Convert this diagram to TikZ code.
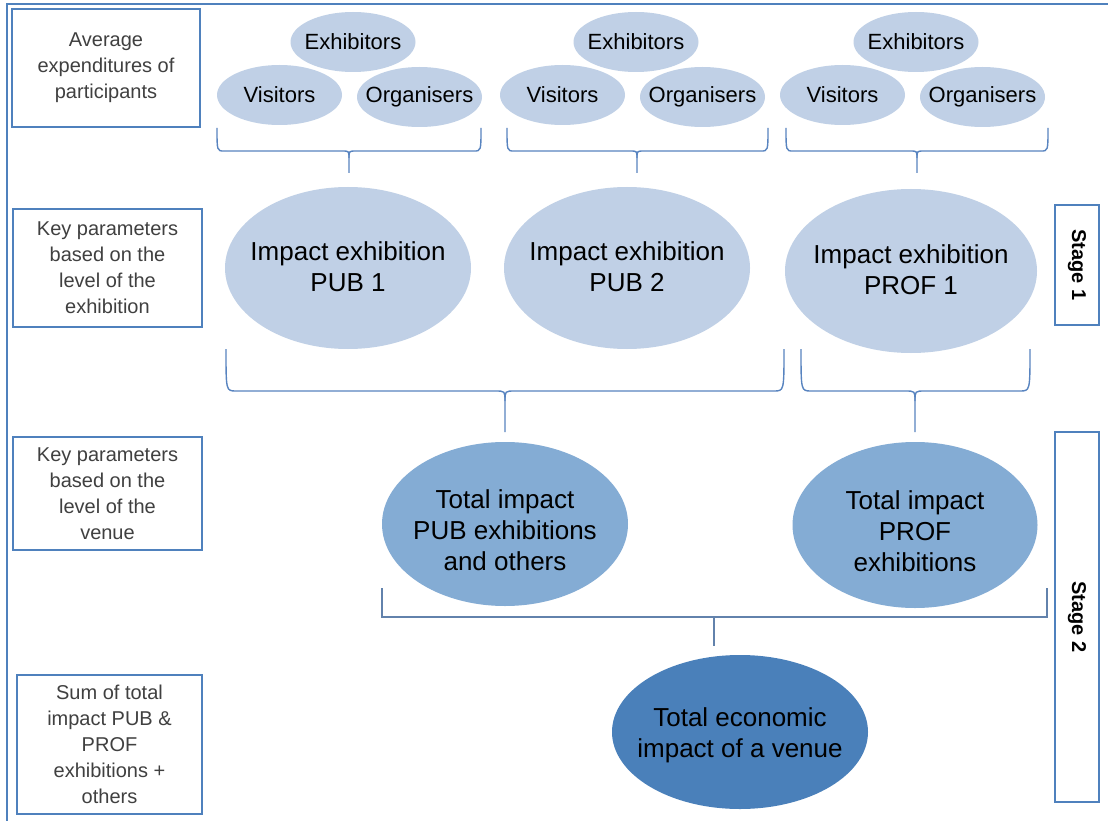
\documentclass[tikz,border=0pt]{standalone}
\usepackage{fontspec}
\setmainfont{Liberation Sans}
\usetikzlibrary{shapes.geometric}
\definecolor{frame}{RGB}{79,129,189}
\definecolor{light}{RGB}{192,208,230}
\definecolor{mid}{RGB}{132,172,212}
\definecolor{dark}{RGB}{74,128,186}
\definecolor{bracec}{RGB}{88,132,192}
\definecolor{sqc}{RGB}{98,130,172}
\definecolor{gtext}{RGB}{64,64,64}
\newcommand{\mybrace}[7]{%
  \draw[bracel] (#1,#4) .. controls (#1,#5) and (#1,#5) .. ({#1+#7},#5) -- ({#3-#7},#5) .. controls (#3,#5) and (#3,#5) .. (#3,{#5+#7}) -- (#3,#6);
  \draw[bracel] (#2,#4) .. controls (#2,#5) and (#2,#5) .. ({#2-#7},#5) -- ({#3+#7},#5) .. controls (#3,#5) and (#3,#5) .. (#3,{#5+#7});
}
\begin{document}
\begin{tikzpicture}[x=1pt,y=-1pt,
  lbox/.style={draw=frame, line width=2.5pt, fill=white, align=center, text=gtext,
    font=\fontsize{20}{26}\selectfont, inner sep=0pt},
  stagebox/.style={draw=frame, line width=2.5pt, rotate=-90, font=\bfseries\fontsize{20}{24}\selectfont,
    minimum height=44pt, inner sep=0pt},
  ell/.style={ellipse, inner sep=0pt, outer sep=0pt},
  small/.style={ell, fill=light, minimum width=125pt, minimum height=60pt,
    label={[font=\fontsize{22}{26}\selectfont]center:#1}},
  big/.style={ell, fill=light, minimum width=246pt, minimum height=162pt,
    label={[align=center, yshift=1pt, font=\fontsize{26}{31}\selectfont]center:#1}},
  tot/.style={ell, fill=mid, minimum width=246pt, minimum height=164pt,
    label={[align=center, yshift=-6pt, font=\fontsize{26}{31}\selectfont]center:#1}},
  fin/.style={ell, fill=dark, minimum width=256pt, minimum height=154pt,
    label={[align=center, yshift=-3pt, font=\fontsize{26}{31}\selectfont]center:#1}},
  bracel/.style={draw=bracec, line width=1.4pt},
  sqbr/.style={draw=sqc, line width=1.4pt}
]
\useasboundingbox (0,0) rectangle (1108,821);
\fill[white] (0,0) rectangle (1108,821);
% outer frame
\draw[frame, line width=2.5pt] (7,821) -- (7,4) -- (1108,4);

% left boxes
\node[lbox, minimum width=188pt, minimum height=118pt] (lb1) at (106,68) {Average\\expenditures of\\participants};
\node[lbox, minimum width=189pt, minimum height=118pt, text depth=0pt] (lb2) at (107.5,268) {Key parameters\\based on the\\level of the\\exhibition};
\node[lbox, minimum width=189pt, minimum height=113pt] (lb3) at (107.5,493.5) {Key parameters\\based on the\\level of the\\venue};
\node[lbox, minimum width=185pt, minimum height=139pt] (lb4) at (109.5,744.5) {Sum of total\\impact PUB \&\\PROF\\exhibitions +\\others};

% stage boxes
\node[stagebox, minimum width=120pt] (s1) at (1077,265) {Stage 1};
\node[stagebox, minimum width=370pt] (s2) at (1077,617) {Stage 2};

% participant ellipses
\foreach \dx/\n in {0/1, 283/2, 563/3}{
  \node[small={Exhibitors}] (ex\n) at ({353+\dx},42) {};
  \node[small={Visitors}] (vi\n) at ({279.5+\dx},95) {};
  \node[small={Organisers}] (or\n) at ({419.5+\dx},97) {};
}
\mybrace{217}{481}{349}{128}{151}{173}{7}
\mybrace{507}{768}{637}{128}{151}{173}{7}
\mybrace{786}{1048}{917}{128}{151}{173}{7}

% stage 1 ellipses
\node[big={Impact exhibition\\PUB 1}] (imp1) at (348,268) {};
\node[big={Impact exhibition\\PUB 2}] (imp2) at (627,268) {};
\node[big={Impact exhibition\\PROF 1}, minimum width=252pt, minimum height=164pt] (imp3) at (911,271) {};

\mybrace{226}{784}{505}{349}{391}{432}{10}
\mybrace{801}{1030}{915}{349}{391}{432}{10}

% stage 2 ellipses
\node[tot={Total impact\\PUB exhibitions\\and others}] (tot1) at (505,524) {};
\node[tot={Total impact\\PROF\\exhibitions}, minimum width=245pt, minimum height=166pt] (tot2) at (915,525) {};

\coordinate (sqL) at (382,588);
\coordinate (sqR) at (1047,588);
\coordinate (sqT) at (714,646);
\draw[sqbr] (sqL) |- (sqR |- 0,617) -- (sqR);
\draw[sqbr] (sqT |- 0,617) -- (sqT);

% final ellipse
\node[fin={Total economic\\impact of a venue}] (fin) at (740,732) {};
\end{tikzpicture}
\end{document}
